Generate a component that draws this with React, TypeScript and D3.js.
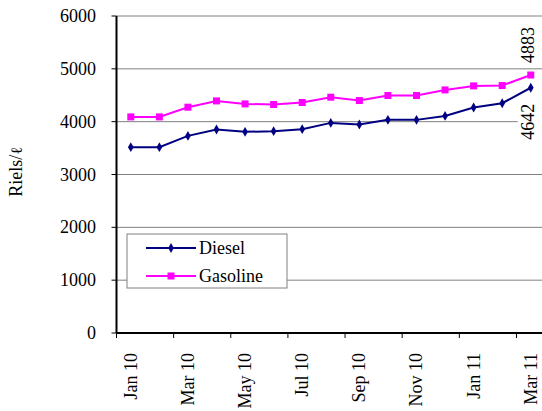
import React from 'react';
import * as d3 from 'd3';

const months = [
  'Jan 10', 'Feb 10', 'Mar 10', 'Apr 10', 'May 10', 'Jun 10', 'Jul 10', 'Aug 10',
  'Sep 10', 'Oct 10', 'Nov 10', 'Dec 10', 'Jan 11', 'Feb 11', 'Mar 11',
];
const diesel = [3517, 3517, 3731, 3852, 3807, 3820, 3858, 3977, 3947, 4034, 4034, 4109, 4268, 4349, 4642];
const gasoline = [4090, 4090, 4274, 4393, 4336, 4325, 4363, 4463, 4400, 4495, 4495, 4601, 4677, 4684, 4883];
const yTicks = [0, 1000, 2000, 3000, 4000, 5000, 6000];
const xLabels = ['Jan 10', 'Mar 10', 'May 10', 'Jul 10', 'Sep 10', 'Nov 10', 'Jan 11', 'Mar 11'];

const DIESEL = '#000080';
const GAS = '#ff00ff';
const FONT = 'Times New Roman';

const App: React.FC = () => {
  const left = 116.5;
  const x = d3.scaleBand<string>().domain(months).range([left, left + 15 * 28.57]).paddingInner(0).paddingOuter(0);
  const y = d3.scaleLinear().domain([0, 6000]).range([333, 16]);
  const cx = (m: string) => (x(m) as number) + x.bandwidth() / 2;

  const line = d3.line<number>()
    .x((_, i) => cx(months[i]))
    .y((d) => y(d));

  const last = months.length - 1;
  const lx = cx(months[last]);
  const ts = { fontFamily: FONT, fontSize: 18 };

  return (
    <svg width={542} height={411} style={{ position: 'absolute', left: 0, top: 0, background: '#fff' }}>
      {/* gridlines */}
      {yTicks.filter((t) => t > 0).map((t) => (
        <line key={t} x1={left} x2={560} y1={y(t)} y2={y(t)} stroke="#808080" strokeWidth={1} />
      ))}
      {/* y ticks and labels */}
      {yTicks.map((t) => (
        <g key={'yt' + t}>
          <line x1={left - 5} x2={left} y1={y(t)} y2={y(t)} stroke="#000" />
          <text x={96} y={y(t) + 6} textAnchor="end" style={ts}>{t}</text>
        </g>
      ))}
      {/* x ticks */}
      {months.map((m, i) => (i % 2 === 0 ? (
        <line key={'xt' + m} x1={x(m) as number} x2={x(m) as number} y1={y(0)} y2={y(0) + 5} stroke="#000" />
      ) : null))}
      {xLabels.map((m) => (
        <text key={'xl' + m} transform={`translate(${cx(m) + 6},353) rotate(-90)`} textAnchor="end" style={ts}>{m}</text>
      ))}
      {/* axes */}
      <line x1={left} x2={left} y1={y(6000)} y2={y(0)} stroke="#000" strokeWidth={2} />
      <line x1={left} x2={560} y1={y(0)} y2={y(0)} stroke="#000" strokeWidth={2} />
      <text transform="translate(22,172) rotate(-90)" textAnchor="middle" style={ts}>Riels/<tspan style={{ fontFamily: 'DejaVu Serif', fontSize: 16 }}>ℓ</tspan></text>

      {/* series */}
      <path d={line(gasoline) || ''} fill="none" stroke={GAS} strokeWidth={2} />
      {gasoline.map((v, i) => (
        <rect key={'g' + i} x={cx(months[i]) - 3.5} y={y(v) - 3.5} width={7} height={7} fill={GAS} />
      ))}
      <path d={line(diesel) || ''} fill="none" stroke={DIESEL} strokeWidth={2} />
      {diesel.map((v, i) => (
        <path key={'d' + i} d={d3.symbol(d3.symbolDiamond, 28)() || ''} transform={`translate(${cx(months[i])},${y(v)})`} fill={DIESEL} />
      ))}

      {/* data labels */}
      <rect x={lx - 13} y={y(gasoline[last]) - 57} width={26} height={48} fill="#fff" />
      <text transform={`translate(${lx + 3},${y(gasoline[last]) - 12}) rotate(-90)`} textAnchor="start" style={ts}>{gasoline[last]}</text>
      <rect x={lx - 13} y={y(diesel[last]) + 12} width={26} height={48} fill="#fff" />
      <text transform={`translate(${lx + 3},${y(diesel[last]) + 16}) rotate(-90)`} textAnchor="end" style={ts}>{diesel[last]}</text>

      {/* legend */}
      <rect x={127} y={234} width={160} height={54} fill="#fff" stroke="#808080" />
      <line x1={146} x2={196} y1={248} y2={248} stroke={DIESEL} strokeWidth={2} />
      <path d={d3.symbol(d3.symbolDiamond, 28)() || ''} transform="translate(171,248)" fill={DIESEL} />
      <text x={199} y={254} style={ts}>Diesel</text>
      <line x1={146} x2={196} y1={276} y2={276} stroke={GAS} strokeWidth={2} />
      <rect x={167.5} y={272.5} width={7} height={7} fill={GAS} />
      <text x={199} y={282} style={ts}>Gasoline</text>
    </svg>
  );
};

export default App;
